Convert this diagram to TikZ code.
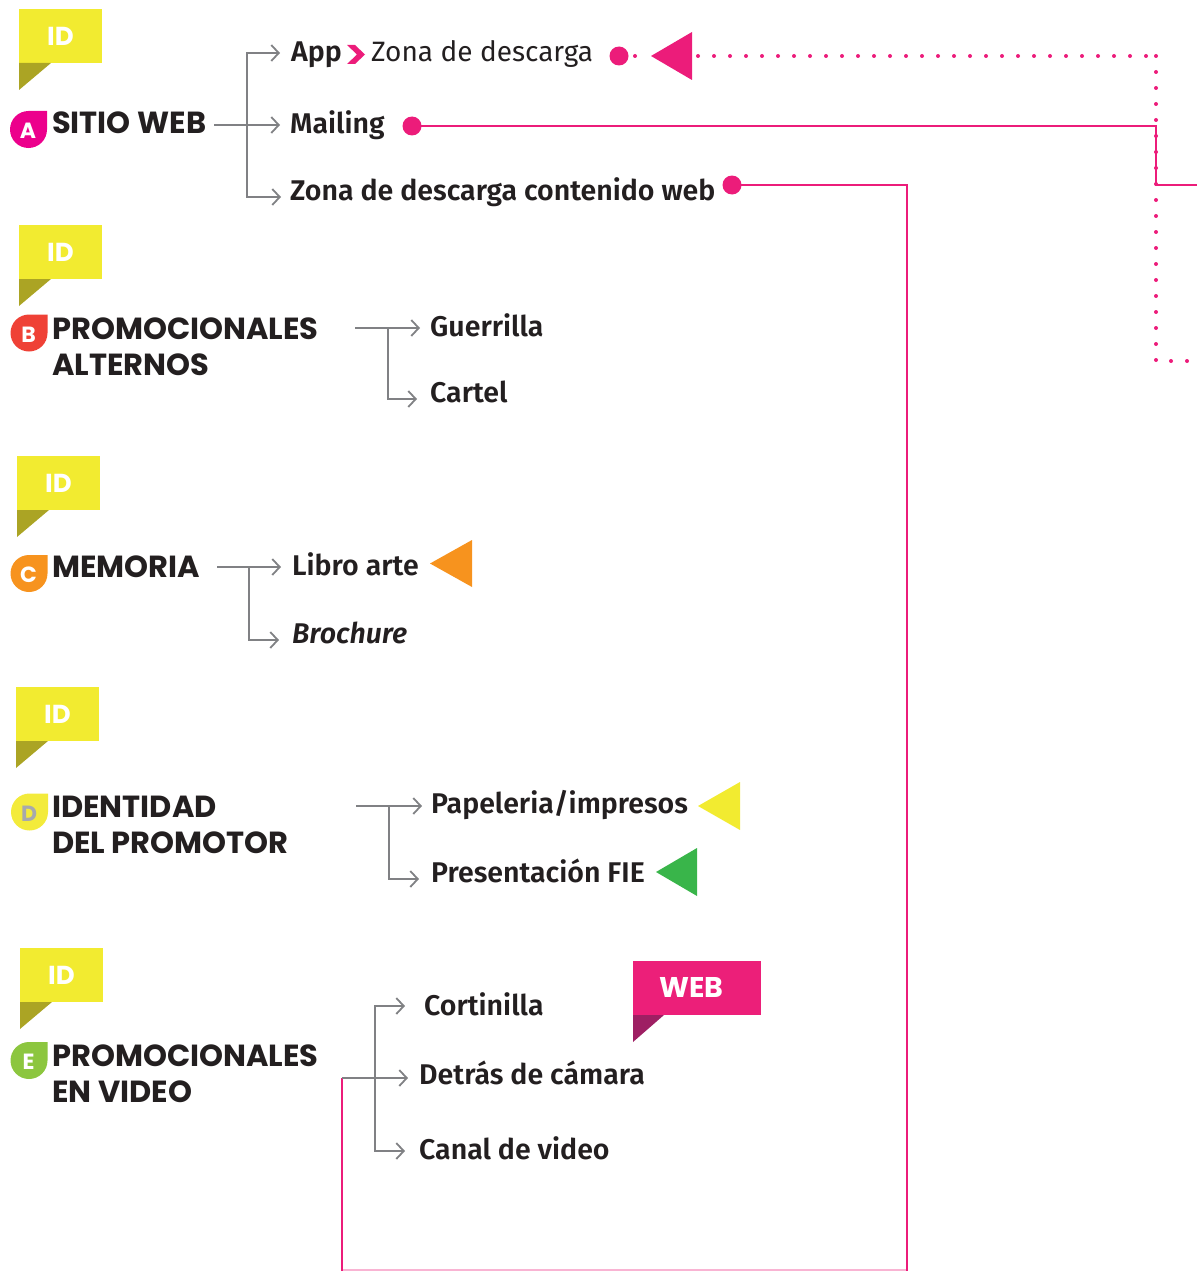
\documentclass[tikz,border=0pt]{standalone}
\usepackage{fontspec}
\usetikzlibrary{arrows.meta}
\newfontfamily\headfont{Poppins}
\newfontfamily\itemfont{Fira Sans}[BoldFont={* SemiBold},BoldItalicFont={* SemiBold Italic}]

\definecolor{ink}{HTML}{231F20}
\definecolor{treegray}{HTML}{808184}
\definecolor{linkpink}{HTML}{EC1C7A}
\definecolor{lightlink}{HTML}{F9B4D3}
\definecolor{idyellow}{HTML}{F2EB30}
\definecolor{idolive}{HTML}{ABA424}
\definecolor{badgeA}{HTML}{EC008C}
\definecolor{badgeB}{HTML}{EF4136}
\definecolor{badgeC}{HTML}{F7931E}
\definecolor{badgeD}{HTML}{F3EB3B}
\definecolor{badgeE}{HTML}{8CC63F}
\definecolor{letterD}{HTML}{A7A9AC}
\definecolor{ptrorange}{HTML}{F7931E}
\definecolor{ptryellow}{HTML}{F2EB30}
\definecolor{ptrgreen}{HTML}{39B54A}
\definecolor{webpink}{HTML}{EC1F79}
\definecolor{webdark}{HTML}{9E1F63}

% yellow "ID" flag: node name, left x, top y
\newcommand\idflag[3]{%
  \fill[idyellow] (#2,#3) rectangle ++(83,54);
  \fill[idolive] (#2,#3+54) -- ++(32,0) -- ++(-32,27) -- cycle;
  \node[idtxt] (#1) at (#2+41.5,#3+27.5) {ID};}

% drop-shaped letter badge: node name, cx, cy, fill, letter, letter colour
\newcommand\letterbadge[6]{%
  \fill[#4] (#2,#3-18.5) -- (#2+18.5,#3-18.5) -- (#2+18.5,#3)
    arc[start angle=0,end angle=270,radius=18.5] -- cycle;
  \node[badgetxt, text=#6] (#1) at (#2-0.5,#3+1.5) {#5};}

\begin{document}
\begin{tikzpicture}[x=1pt,y=-1pt,
  tree/.style={draw=treegray, line width=1.8pt,
    -{Straight Barb[length=7.5pt,width=16pt,line width=1.8pt]}},
  head/.style={anchor=base west, inner sep=0pt, text=ink,
    font=\headfont\bfseries\fontsize{30.5}{36}\selectfont},
  item/.style={anchor=base west, inner sep=0pt, text=ink,
    font=\itemfont\bfseries\fontsize{28.5}{34}\selectfont},
  itemlight/.style={anchor=base west, inner sep=0pt, text=ink,
    font=\itemfont\fontsize{28}{34}\selectfont},
  idtxt/.style={text=white, inner sep=0pt,
    font=\headfont\bfseries\fontsize{26}{30}\selectfont},
  badgetxt/.style={inner sep=0pt,
    font=\headfont\bfseries\fontsize{22}{26}\selectfont},
  pdot/.style={circle, fill=linkpink, inner sep=0pt, minimum size=19pt},
  link/.style={draw=linkpink, line width=2.6pt},
  dots/.style={draw=linkpink, line width=4pt, line cap=round,
    dash pattern=on 0pt off 16pt},
]
\useasboundingbox (0,0) rectangle (1197,1271);

% ---------- flags and badges ----------
\idflag{idA}{19}{9}
\idflag{idB}{19}{225}
\idflag{idC}{17}{456}
\idflag{idD}{16}{687}
\idflag{idE}{20}{948}

\letterbadge{bA}{28.5}{129.5}{badgeA}{A}{white}
\letterbadge{bB}{29}{333}{badgeB}{B}{white}
\letterbadge{bC}{29}{573.5}{badgeC}{C}{white}
\letterbadge{bD}{29.5}{812}{badgeD}{D}{letterD}
\letterbadge{bE}{29}{1060.5}{badgeE}{E}{white}

% ---------- headings ----------
\node[head] (hA)  at (52,133)  {SITIO WEB};
\node[head] (hB1) at (52,339)  {PROMOCIONALES};
\node[head] (hB2) at (52,375)  {ALTERNOS};
\node[head] (hC)  at (52,577)  {MEMORIA};
\node[head] (hD1) at (52,817)  {IDENTIDAD};
\node[head] (hD2) at (52,853)  {DEL PROMOTOR};
\node[head] (hE1) at (52,1066) {PROMOCIONALES};
\node[head] (hE2) at (52,1102) {EN VIDEO};

% ---------- items ----------
\node[item] (iApp) at (291,62) {App};
\fill[linkpink] (347,45) -- (355,45) -- (365,54.5) -- (355,64) -- (347,64) -- (357,54.5) -- cycle;
\node[itemlight] (iZona) at (371,62) {Zona de descarga};
\node[item] (iMail) at (290,133) {Mailing};
\node[item] (iWeb)  at (290,200) {Zona de descarga contenido web};

\node[item] (iGue) at (430,336) {Guerrilla};
\node[item] (iCar) at (430,402) {Cartel};

\node[item] (iLib) at (292,575) {Libro arte};
\node[item, font=\itemfont\bfseries\itshape\fontsize{28.5}{34}\selectfont] (iBro) at (292,643) {Brochure};

\node[item] (iPap) at (431,813) {Papeleria/impresos};
\node[item] (iPre) at (431,882) {Presentación FIE};

\node[item] (iCor) at (424,1015) {Cortinilla};
\node[item] (iDet) at (419,1084) {Detrás de cámara};
\node[item] (iCan) at (419,1159) {Canal de video};

% ---------- pointer triangles ----------
\fill[linkpink]   (651,56)  -- (692,32)  -- (692,80)  -- cycle;
\coordinate (tApp) at (651,56);
\coordinate (tAppR) at (698,56);
\fill[ptrorange] (430,563.5) -- (472,540) -- (472,587) -- cycle;
\fill[ptryellow] (698,806) -- (740,782) -- (740,830) -- cycle;
\fill[ptrgreen]  (656,872) -- (697,848) -- (697,896) -- cycle;

% ---------- WEB flag ----------
\fill[webpink] (633,961) rectangle (761,1015);
\fill[webdark] (633,1015) -- (664,1015) -- (633,1042) -- cycle;
\node[inner sep=0pt, text=white, font=\headfont\bfseries\fontsize{28.5}{32}\selectfont] (web) at (691.5,987) {WEB};

% ---------- tree connectors ----------
\coordinate (aS) at (214,125);  \coordinate (aJ) at (247,125);
\coordinate (aT1) at (280,53);  \coordinate (aT2) at (280,125); \coordinate (aT3) at (281,197);
\draw[tree] (aS) -- (aT2);
\draw[tree] (aJ) |- (aT1);
\draw[tree] (aJ) |- (aT3);

\coordinate (bS) at (355,328);  \coordinate (bJ) at (388,328);
\coordinate (bT1) at (420,328); \coordinate (bT2) at (417,399);
\draw[tree] (bS) -- (bT1);
\draw[tree] (bJ) |- (bT2);

\coordinate (cS) at (217,567);  \coordinate (cJ) at (249,567);
\coordinate (cT1) at (281,567); \coordinate (cT2) at (279,640);
\draw[tree] (cS) -- (cT1);
\draw[tree] (cJ) |- (cT2);

\coordinate (dS) at (356,806);  \coordinate (dJ) at (389,806);
\coordinate (dT1) at (422,806); \coordinate (dT2) at (419,879);
\draw[tree] (dS) -- (dT1);
\draw[tree] (dJ) |- (dT2);

\coordinate (eS) at (342,1078); \coordinate (eJ) at (375,1078);
\coordinate (eT1) at (405,1006); \coordinate (eT2) at (408,1078); \coordinate (eT3) at (405,1151);
\draw[tree] (eJ) |- (eT1);
\draw[tree] (eJ) |- (eT3);

% ---------- pink links ----------
\node[pdot] (dApp)  at (619,56)  {};
\node[pdot] (dMail) at (412,126) {};
\node[pdot] (dWeb)  at (732,185) {};

\coordinate (appCorner) at (1156,56);
\coordinate (appOut) at (1197,361);
\draw[dots] (dApp.center) -- (tApp);
\draw[dots] (tAppR) -- (appCorner);
\draw[dots] (appCorner) -- (1156,361) -- (appOut);

\coordinate (mailOut) at (1197,185);
\draw[link] (dMail.center) -- (1156,126) |- (mailOut);

\draw[link] (dWeb.center) -- (907,185) -- (907,1271);
\draw[lightlink, line width=1.6pt] (343,1270.2) -- (906,1270.2);
\draw[link] (342,1271) -- (eS);
\draw[tree] (eS) -- (eT2);
\end{tikzpicture}
\end{document}
